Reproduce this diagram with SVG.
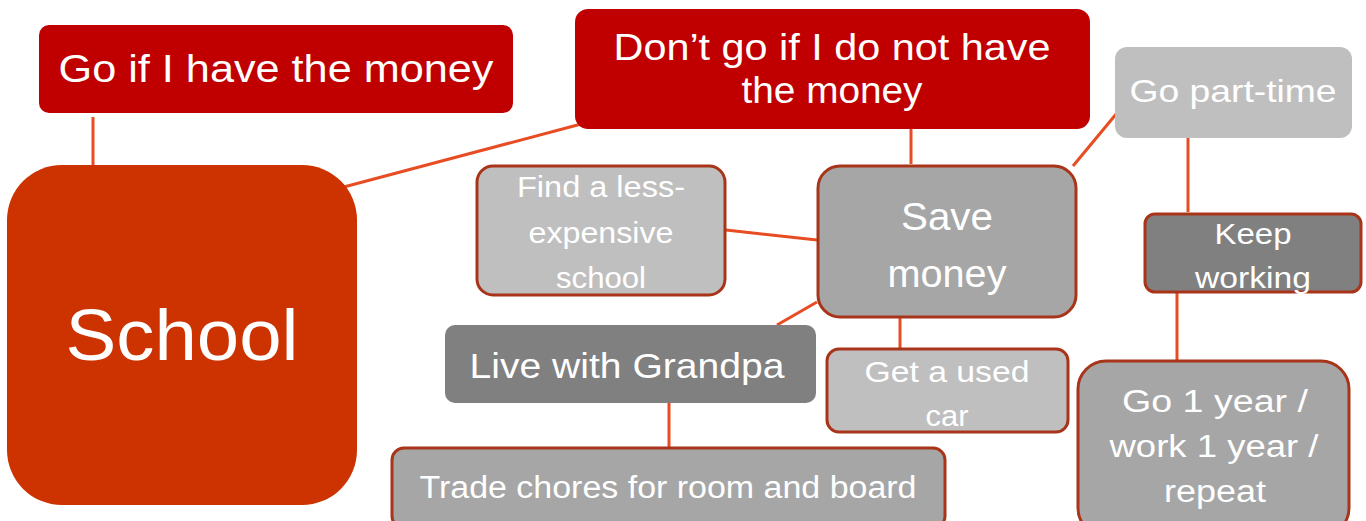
<svg xmlns="http://www.w3.org/2000/svg" width="1366" height="521" viewBox="0 0 1366 521">
<style>
text{font-family:"Liberation Sans","DejaVu Sans",sans-serif;fill:#fff;text-anchor:middle}
.c{stroke:#E84C22;stroke-width:3;fill:none}
.b{stroke:#A8341A;stroke-width:3}
</style>
<rect width="1366" height="521" fill="#fff"/>
<g id="connectors">
<line class="c" x1="93" y1="117" x2="93" y2="177"/>
<line class="c" x1="340" y1="188" x2="585" y2="123"/>
<line class="c" x1="911" y1="117" x2="911" y2="164"/>
<line class="c" x1="1073" y1="166" x2="1117" y2="113"/>
<line class="c" x1="1188" y1="133" x2="1188" y2="212"/>
<line class="c" x1="726" y1="230" x2="817" y2="240"/>
<line class="c" x1="777" y1="325" x2="817" y2="302"/>
<line class="c" x1="900" y1="318" x2="900" y2="348"/>
<line class="c" x1="669" y1="403" x2="669" y2="447"/>
<line class="c" x1="1177" y1="293" x2="1177" y2="360"/>
</g>
<g id="school"><rect x="7" y="165" width="350" height="340" rx="55" fill="#CC3300"/><text x="182" y="360" font-size="72" textLength="233" lengthAdjust="spacingAndGlyphs">School</text></g>
<g id="go-if"><rect x="39" y="25" width="474" height="88" rx="10" fill="#C00000"/><text x="276" y="82" font-size="38" textLength="435" lengthAdjust="spacingAndGlyphs">Go if I have the money</text></g>
<g id="dont-go"><rect x="575" y="9" width="515" height="120" rx="13" fill="#C00000"/><text x="832" y="60" font-size="37" textLength="437" lengthAdjust="spacingAndGlyphs">Don’t go if I do not have</text><text x="832" y="103" font-size="37" textLength="181" lengthAdjust="spacingAndGlyphs">the money</text></g>
<g id="part-time"><rect x="1115" y="47" width="237" height="91" rx="12" fill="#BFBFBF"/><text x="1233" y="102" font-size="32" textLength="207" lengthAdjust="spacingAndGlyphs">Go part-time</text></g>
<g id="save-money"><rect class="b" x="818" y="166" width="258" height="151" rx="22" fill="#A6A6A6"/><text x="947" y="230" font-size="38" textLength="92" lengthAdjust="spacingAndGlyphs">Save</text><text x="947" y="287" font-size="38" textLength="119" lengthAdjust="spacingAndGlyphs">money</text></g>
<g id="less-expensive"><rect class="b" x="477" y="166" width="248" height="129" rx="16" fill="#BFBFBF"/><text x="601" y="197" font-size="30" textLength="168" lengthAdjust="spacingAndGlyphs">Find a less-</text><text x="601" y="243" font-size="30" textLength="145" lengthAdjust="spacingAndGlyphs">expensive</text><text x="601" y="288" font-size="30" textLength="90" lengthAdjust="spacingAndGlyphs">school</text></g>
<g id="keep-working"><rect class="b" x="1145" y="214" width="216" height="78" rx="10" fill="#808080"/><text x="1253" y="244" font-size="30" textLength="77" lengthAdjust="spacingAndGlyphs">Keep</text><text x="1253" y="288" font-size="30" textLength="116" lengthAdjust="spacingAndGlyphs">working</text></g>
<g id="grandpa"><rect x="445" y="325" width="371" height="78" rx="10" fill="#808080"/><text x="627" y="378" font-size="35" textLength="315" lengthAdjust="spacingAndGlyphs">Live with Grandpa</text></g>
<g id="used-car"><rect class="b" x="827" y="349" width="241" height="83" rx="12" fill="#BFBFBF"/><text x="947" y="382" font-size="30" textLength="165" lengthAdjust="spacingAndGlyphs">Get a used</text><text x="947" y="426" font-size="30" textLength="43" lengthAdjust="spacingAndGlyphs">car</text></g>
<g id="trade-chores"><rect class="b" x="392" y="448" width="553" height="80" rx="12" fill="#A6A6A6"/><text x="668" y="498" font-size="31" textLength="497" lengthAdjust="spacingAndGlyphs">Trade chores for room and board</text></g>
<g id="go-1-year"><rect class="b" x="1078" y="361" width="271" height="175" rx="28" fill="#A6A6A6"/><text x="1215" y="412" font-size="31" textLength="186" lengthAdjust="spacingAndGlyphs">Go 1 year /</text><text x="1214" y="457" font-size="31" textLength="209" lengthAdjust="spacingAndGlyphs">work 1 year /</text><text x="1215" y="502" font-size="31" textLength="102" lengthAdjust="spacingAndGlyphs">repeat</text></g>
</svg>
